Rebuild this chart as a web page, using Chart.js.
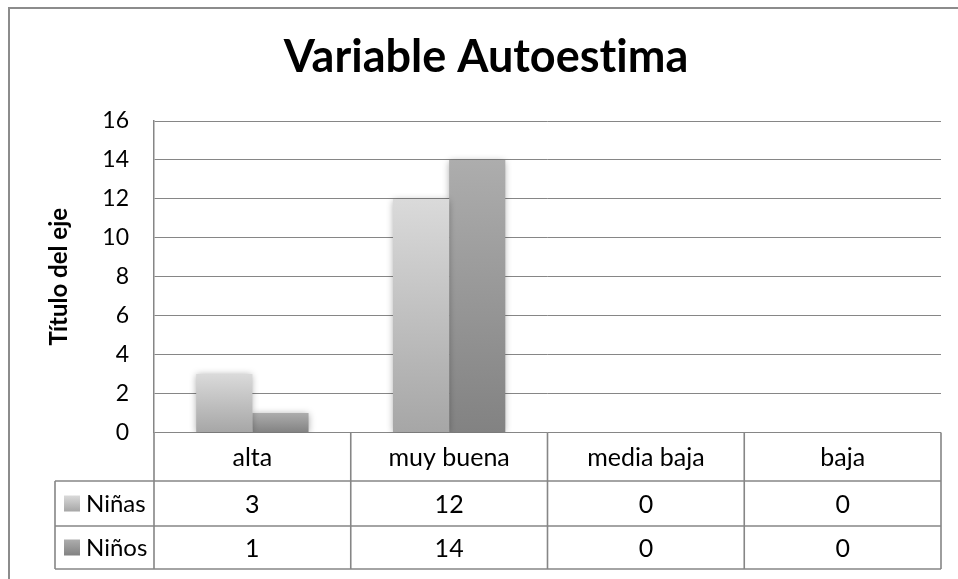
<!DOCTYPE html>
<html><head><meta charset="utf-8">
<script src="https://cdn.jsdelivr.net/npm/chart.js@4/dist/chart.umd.min.js"></script>
<style>html,body{margin:0;padding:0;background:#fff}#wrap{width:958px;height:579px;position:relative}</style>
</head><body><div id="wrap"><canvas id="c" width="958" height="579"></canvas></div>
<script>
const chartTitle = 'Variable Autoestima';
const axisTitle = 'Título del eje';
const categories = ['alta', 'muy buena', 'media baja', 'baja'];
const seriesNames = ['Niñas', 'Niños'];
const ninas = [3, 12, 0, 0];
const ninos = [1, 14, 0, 0];
const yMin = 0, yMax = 16, yStep = 2;

const FONT = 'Lato, "Open Sans", sans-serif';
const LINE = '#868686';
const GRAD = [['#dadada', '#a6a6a6'], ['#adadad', '#828282']];

function barFill(si) {
  return function (c) {
    const chart = c.chart;
    if (!chart.chartArea || c.type !== 'data') return GRAD[si][1];
    const y = chart.scales.y;
    const top = y.getPixelForValue(c.raw);
    const base = y.getPixelForValue(0);
    if (base - top < 1) return GRAD[si][1];
    const g = chart.ctx.createLinearGradient(0, top, 0, base);
    g.addColorStop(0, GRAD[si][0]);
    g.addColorStop(1, GRAD[si][1]);
    return g;
  };
}

const framePlugin = {
  id: 'frame',
  beforeDraw(chart) {
    const ctx = chart.ctx;
    ctx.save();
    ctx.fillStyle = '#fff';
    ctx.fillRect(0, 0, chart.width, chart.height);
    ctx.strokeStyle = '#8c8c8c';
    ctx.lineWidth = 2;
    ctx.beginPath();
    ctx.moveTo(9, chart.height + 5);
    ctx.lineTo(9, 8);
    ctx.lineTo(chart.width + 5, 8);
    ctx.stroke();
    ctx.fillStyle = '#000';
    ctx.font = 'bold 45px ' + FONT;
    try { ctx.textRendering = 'optimizeSpeed'; } catch (e) {}
    ctx.textAlign = 'center';
    ctx.textBaseline = 'alphabetic';
    ctx.fillText(chartTitle, 486, 72);
    ctx.restore();
  }
};

const shadowPlugin = {
  id: 'shadow',
  beforeDatasetsDraw(chart) {
    const ctx = chart.ctx;
    ctx.save();
    ctx.shadowColor = 'rgba(0,0,0,0.35)';
    ctx.shadowBlur = 7;
    ctx.shadowOffsetX = 0;
    ctx.shadowOffsetY = 1;
  },
  afterDatasetsDraw(chart) {
    chart.ctx.restore();
  }
};

const tablePlugin = {
  id: 'datatable',
  afterDraw(chart) {
    const ctx = chart.ctx;
    const xs = chart.scales.x;
    const ca = chart.chartArea;
    const n = categories.length;
    const colW = (ca.right - ca.left) / n;
    const rowTop = ca.bottom;
    const r1 = 481, r2 = 526, r3 = 569;
    const keyLeft = 55;
    ctx.save();
    ctx.strokeStyle = LINE;
    ctx.lineWidth = 1.6;
    ctx.beginPath();
    for (let i = 0; i <= n; i++) {
      const x = ca.left + i * colW;
      ctx.moveTo(x, rowTop);
      ctx.lineTo(x, r3);
    }
    [r1, r2, r3].forEach(y => { ctx.moveTo(keyLeft, y); ctx.lineTo(ca.right, y); });
    ctx.moveTo(keyLeft, r1); ctx.lineTo(keyLeft, r3);
    ctx.stroke();

    ctx.fillStyle = '#000';
    ctx.textBaseline = 'middle';
    ctx.textAlign = 'center';
    ctx.font = '25px ' + FONT;
    categories.forEach((c, i) => ctx.fillText(c, xs.getPixelForValue(i), (rowTop + r1) / 2 + 1));
    const rows = [[ninas, r1, r2], [ninos, r2, r3]];
    rows.forEach(([vals, a, b], si) => {
      const cy = (a + b) / 2;
      ctx.textAlign = 'center';
      ctx.font = '25px ' + FONT;
      vals.forEach((v, i) => ctx.fillText(String(v), xs.getPixelForValue(i), cy + 1));
      const g = ctx.createLinearGradient(0, cy - 8, 0, cy + 8);
      g.addColorStop(0, GRAD[si][0]);
      g.addColorStop(1, GRAD[si][1]);
      ctx.fillStyle = g;
      ctx.fillRect(64, cy - 8, 16, 16);
      ctx.fillStyle = '#000';
      ctx.textAlign = 'left';
      ctx.font = '24px ' + FONT;
      ctx.fillText(seriesNames[si], 86, cy + 1);
    });
    ctx.restore();
  }
};

new Chart(document.getElementById('c'), {
  type: 'bar',
  data: {
    labels: categories,
    datasets: [
      { label: seriesNames[0], data: ninas, backgroundColor: barFill(0), borderWidth: 0 },
      { label: seriesNames[1], data: ninos, backgroundColor: barFill(1), borderWidth: 0 }
    ]
  },
  options: {
    responsive: false,
    animation: false,
    devicePixelRatio: 1,
    layout: { padding: { left: 0, right: 17, top: 121, bottom: 146.5 } },
    datasets: { bar: { categoryPercentage: 0.571, barPercentage: 1.0 } },
    plugins: { legend: { display: false }, title: { display: false }, tooltip: { enabled: false } },
    scales: {
      x: { display: false },
      y: {
        min: yMin, max: yMax,
        afterFit(s) { s.width = 154; },
        ticks: { stepSize: yStep, padding: 25, color: '#000', font: { family: FONT, size: 23 } },
        grid: { color: LINE, lineWidth: 1, drawTicks: false },
        border: { display: true, color: LINE, width: 1.5 },
        title: { display: true, text: axisTitle, color: '#000', padding: { top: 45, bottom: 0 }, font: { family: FONT, size: 24, weight: 'bold' } }
      }
    }
  },
  plugins: [framePlugin, shadowPlugin, tablePlugin]
});
</script></body></html>
